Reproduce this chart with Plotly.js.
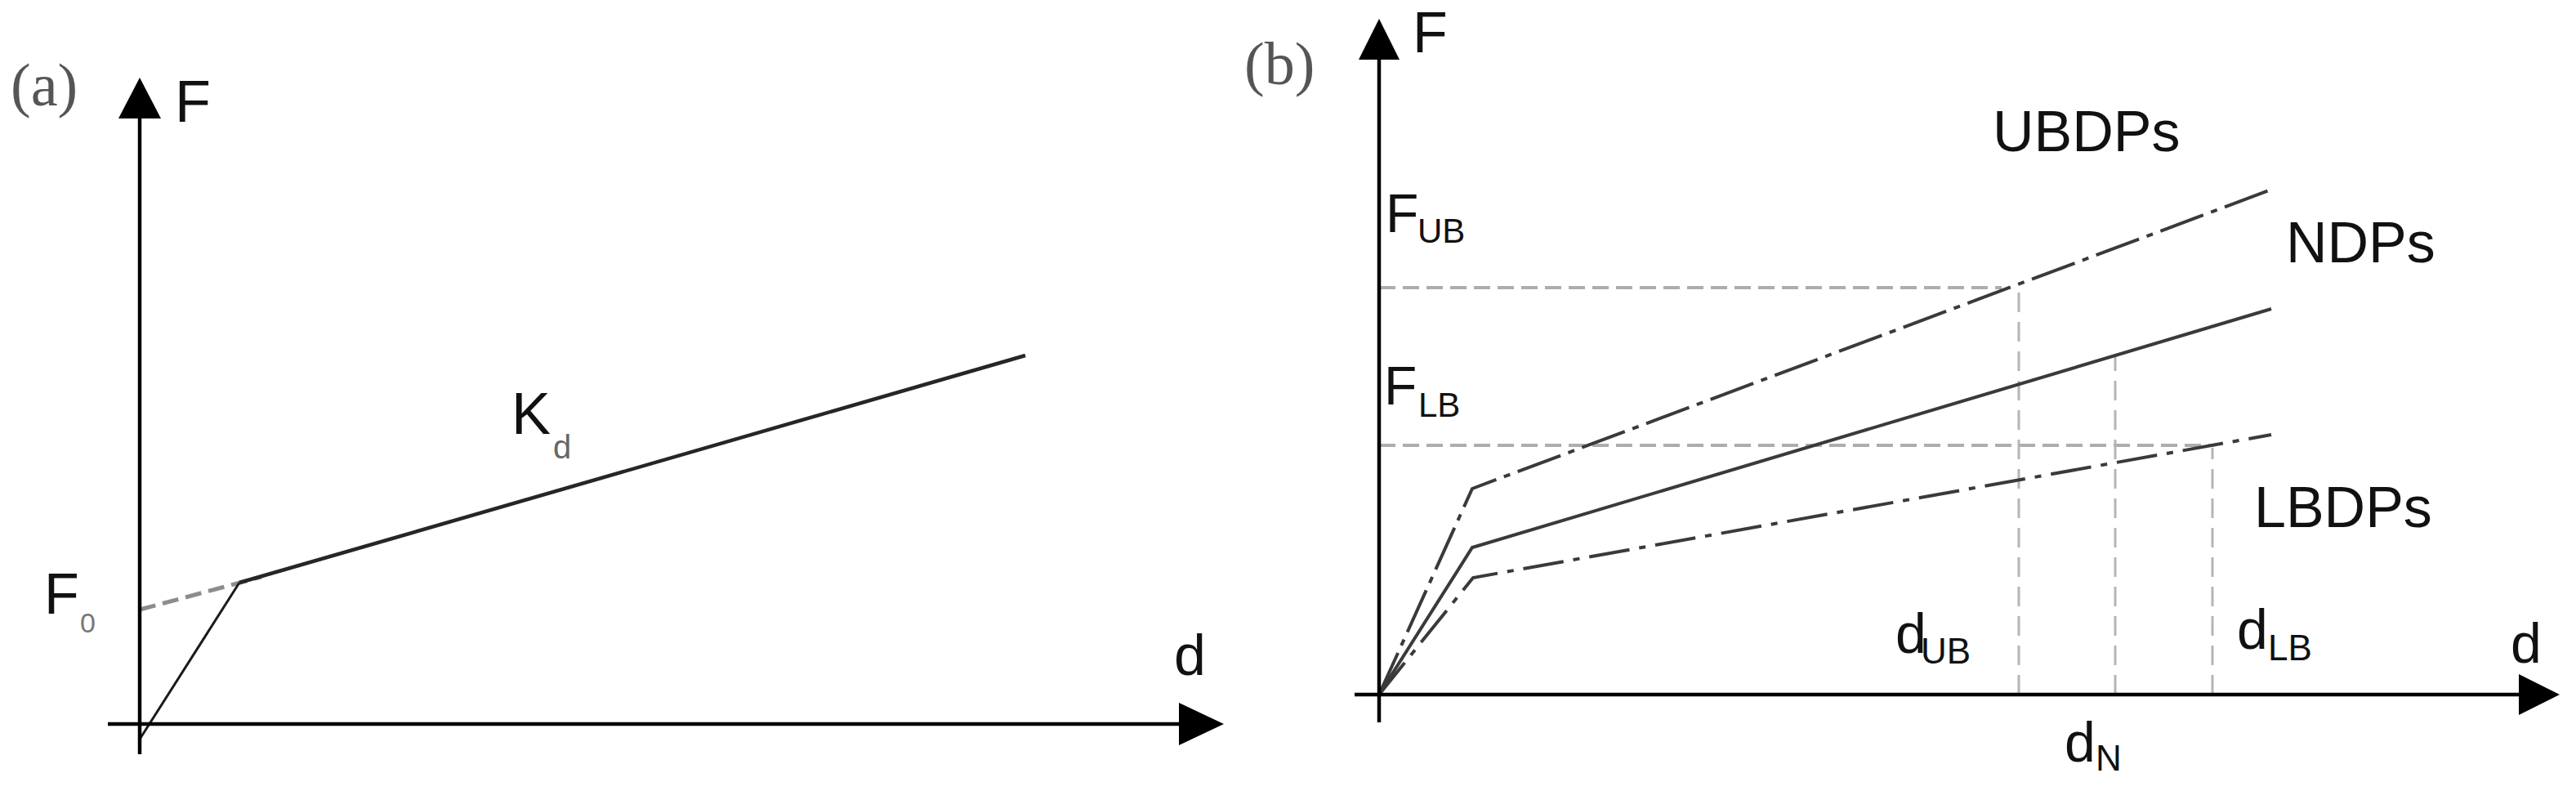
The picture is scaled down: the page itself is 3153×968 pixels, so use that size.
<!DOCTYPE html>
<html>
<head>
<meta charset="utf-8">
<script src="https://cdn.plot.ly/plotly-3.0.1.min.js"></script>
<style>html,body{margin:0;padding:0;background:#fff;}#chart{width:3153px;height:968px;}</style>
</head>
<body>
<div id="chart"></div>
<script>
// ---------- DATA (a): bilinear force-displacement ----------
const aElasticD = [0.01, 1.22];
const aElasticF = [-0.17, 1.73];
const aPostD = [1.22, 10.84];
const aPostF = [1.73, 4.51];
const aF0D = [0, 1.49];
const aF0F = [1.40, 1.80];

// ---------- DATA (b): UBDPs / NDPs / LBDPs ----------
const bUBd = [0, 1.14, 10.92];
const bUBf = [0, 2.52, 6.18];
const bNd = [0, 1.14, 10.92];
const bNf = [0, 1.80, 4.72];
const bLBd = [0, 1.15, 10.92];
const bLBf = [0, 1.43, 3.18];
const bGuideF = [4.98, 3.05];        // F_UB, F_LB
const bGuideFEnd = [7.62, 10.22];    // d where the horizontal guides stop
const bGuideD = [7.83, 9.01, 10.20]; // d_UB, d_N, d_LB
const bGuideDTop = [4.92, 4.13, 3.02];

// ---------- LAYOUT ----------
const W = 3153, H = 968;
const SANS = 'Liberation Sans, Arial, sans-serif';
const SERIF = 'Liberation Serif, Times New Roman, serif';
const CURVE = '#3a3a3a';

const traces = [];
// panel a
traces.push({x: aF0D, y: aF0F, xaxis: 'x', yaxis: 'y', mode: 'lines',
  line: {color: '#8c8c8c', width: 5, dash: '20px,9px'}});
traces.push({x: aElasticD, y: aElasticF, xaxis: 'x', yaxis: 'y', mode: 'lines',
  line: {color: '#1a1a1a', width: 3}});
traces.push({x: aPostD, y: aPostF, xaxis: 'x', yaxis: 'y', mode: 'lines',
  line: {color: '#262626', width: 4.5}});
// panel b guides
bGuideF.forEach((f, i) => traces.push({x: [0, bGuideFEnd[i]], y: [f, f], xaxis: 'x2', yaxis: 'y2',
  mode: 'lines', line: {color: '#adadad', width: 4, dash: '20px,9px'}}));
bGuideD.forEach((d, i) => traces.push({x: [d, d], y: [0, bGuideDTop[i]], xaxis: 'x2', yaxis: 'y2',
  mode: 'lines', line: {color: '#b5b5b5', width: 3, dash: '24px,12px'}}));
// panel b curves
traces.push({x: bUBd, y: bUBf, xaxis: 'x2', yaxis: 'y2', mode: 'lines',
  line: {color: CURVE, width: 4, dash: '56px,10px,8px,10px'}});
traces.push({x: bNd, y: bNf, xaxis: 'x2', yaxis: 'y2', mode: 'lines',
  line: {color: CURVE, width: 4}});
traces.push({x: bLBd, y: bLBf, xaxis: 'x2', yaxis: 'y2', mode: 'lines',
  line: {color: CURVE, width: 4, dash: '50px,12px,8px,12px'}});

// axes with arrowheads (drawn as shapes in data space)
function axisShapes(xr, yr, yLine, xLine, yTip, yBase, yHalf, xTip, xBase, xHalf) {
  return [
    {type: 'line', xref: xr, yref: yr, x0: 0, x1: 0, y0: yLine[0], y1: yLine[1], line: {color: '#000', width: 4.5}},
    {type: 'line', xref: xr, yref: yr, y0: 0, y1: 0, x0: xLine[0], x1: xLine[1], line: {color: '#000', width: 4.5}},
    {type: 'path', xref: xr, yref: yr, path: `M0,${yTip} L${-yHalf},${yBase} L${yHalf},${yBase} Z`,
      fillcolor: '#000', line: {width: 0}},
    {type: 'path', xref: xr, yref: yr, path: `M${xTip},0 L${xBase},${-xHalf} L${xBase},${xHalf} Z`,
      fillcolor: '#000', line: {width: 0}}
  ];
}
const shapes = [].concat(
  axisShapes('x', 'y', [-0.37, 7.5], [-0.39, 12.8], 7.91, 7.41, 0.26, 13.27, 12.72, 0.26),
  axisShapes('x2', 'y2', [-0.34, 7.85], [-0.30, 14.0], 8.27, 7.77, 0.25, 14.45, 13.95, 0.25)
);

// text labels (positioned in pixels of the figure)
function lab(text, px, py, size, opts) {
  opts = opts || {};
  return {text: text, x: px / W, y: 1 - py / H, xref: 'paper', yref: 'paper',
    xanchor: 'left', yanchor: 'middle', showarrow: false, borderpad: 0,
    font: {family: opts.family || SANS, size: size, color: opts.color || '#111'}};
}
const annotations = [
  lab('(a)', 12, 104, 74, {family: SERIF, color: '#555'}),
  lab('(b)', 1522, 78, 74, {family: SERIF, color: '#555'}),
  lab('F', 213, 124, 72),
  lab('F', 1728, 40, 70),
  lab('F', 53, 727, 70),
  lab('0', 97, 762, 34, {color: '#777'}),
  lab('K', 625, 506, 72),
  lab('d', 676, 547, 40, {color: '#666'}),
  lab('d', 1436, 802, 70),
  lab('F', 1695, 261, 66),
  lab('UB', 1734, 282, 42),
  lab('F', 1693, 472, 66),
  lab('LB', 1735, 496, 42),
  lab('UBDPs', 2438, 161, 70),
  lab('NDPs', 2797, 297, 70),
  lab('LBDPs', 2758, 621, 70),
  lab('d', 2319, 775, 68),
  lab('UB', 2350, 796, 44),
  lab('d', 2526, 908, 68),
  lab('N', 2564, 927, 44),
  lab('d', 2737, 770, 68),
  lab('LB', 2775, 792, 44),
  lab('d', 3072, 787, 68)
];

const hidden = {visible: false, showgrid: false, zeroline: false, fixedrange: true};
const layout = {
  width: W, height: H,
  margin: {l: 0, r: 0, t: 0, b: 0, pad: 0},
  paper_bgcolor: '#fff', plot_bgcolor: '#fff',
  showlegend: false,
  xaxis: Object.assign({range: [-1.71, 29.82], domain: [0, 1]}, hidden),
  yaxis: Object.assign({range: [-0.82, 8.86], domain: [0, 1]}, hidden),
  xaxis2: Object.assign({range: [-16.88, 14.65], overlaying: 'x', anchor: 'y2'}, hidden),
  yaxis2: Object.assign({range: [-1.18, 8.50], overlaying: 'y', anchor: 'x2'}, hidden),
  shapes: shapes,
  annotations: annotations
};
Plotly.newPlot('chart', traces, layout, {staticPlot: true, displayModeBar: false});
</script>
</body>
</html>
